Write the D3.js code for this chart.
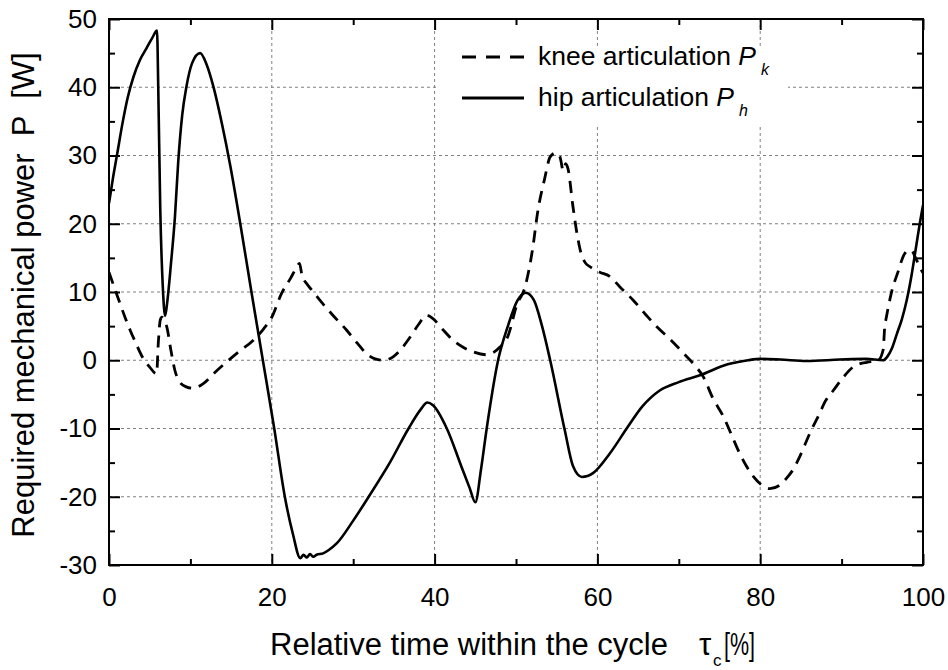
<!DOCTYPE html>
<html><head><meta charset="utf-8">
<script src="https://cdn.jsdelivr.net/npm/d3@7"></script>
<style>
html,body{margin:0;padding:0;background:#fff;}
svg{display:block;}
text{font-family:Arial,"Liberation Sans",sans-serif;fill:#000;white-space:pre;}
</style></head>
<body>
<svg id="chart" width="948" height="670"></svg>
<script>
// ---- data ----
const hipX = [0,0.5,1.0,1.7,2.3,3.0,3.8,4.6,5.3,5.9,6.05,6.3,6.6,6.9,7.2,7.6,8.1,8.5,9.0,9.5,10.2,11.2,12.0,12.8,13.9,14.9,16.2,17.5,18.9,20.3,21.6,22.6,23.5,23.9,24.3,24.7,25.1,25.5,26.3,27.0,28.0,30.0,31.9,34.5,36.8,38.3,39.1,39.8,41.5,43.3,44.3,45.0,45.7,46.4,47.8,49.0,50.2,51.2,52.2,53.2,54.2,56.0,57.0,58.1,59.5,61.5,63.6,65.5,67.7,70.0,72.6,76.0,78.5,80.0,82.5,85.7,89.8,93.0,95.1,95.6,96.2,96.8,97.4,98.0,98.6,99.2,99.6,100];
const hipP = [23,26.8,30.2,35,38.5,41.5,44,45.7,47.2,48.3,40,22,11,6.5,9,14,21,29,36,40,43.5,45,43.3,40.2,34.5,28.5,19.5,10,0,-10,-20,-25.5,-29,-28.5,-28.9,-28.4,-28.8,-28.5,-28.3,-27.8,-26.8,-23.5,-20,-15,-10,-7.2,-6.2,-6.6,-10,-15.6,-18.7,-20.8,-16,-10,0,5,8.8,9.9,8.8,5,0,-10.3,-15.5,-17.1,-16.5,-13.7,-10,-6.8,-4.4,-3.2,-2.2,-0.6,0,0.2,0.1,-0.1,0.1,0.2,0,0.5,1.8,3.9,6,8.8,12.5,17,20,22.7];

const kneeX = [0,1.0,2.0,2.6,3.3,4.0,5.0,5.85,6.05,6.3,6.5,6.8,7.1,7.6,8.1,8.7,9.5,10.3,11.5,13.0,14.4,16.0,17.7,19.0,20.0,21.2,22.3,23.0,23.4,23.7,24.3,24.9,25.9,27.5,29.2,30.5,31.6,32.7,33.7,34.9,36.0,37.0,38.0,39.0,39.8,41.0,42.3,43.5,44.8,46.4,47.3,48.0,49.0,50.1,51.1,52.0,52.7,53.5,54.2,54.9,55.4,55.8,56.1,56.4,57.0,57.5,57.9,58.5,59.1,60.3,61.5,62.8,64.4,66.0,67.3,69.0,70.6,72.0,73.0,74.2,75.5,76.5,77.5,78.3,79.2,80.2,81.2,82.4,83.3,84.1,84.9,86.1,87.3,88.0,89.0,90.2,91.4,92.3,93.1,94.5,95.1,95.3,95.5,96.1,97.0,97.6,98.2,98.6,99.0,99.8,100];
const kneeP = [12.9,9.5,6.2,4.4,2.5,0.7,-1.0,-2.0,2.4,5.9,6.3,5.8,4.9,1.5,-1.5,-3.2,-3.9,-4.1,-3.5,-1.8,-0.3,1.3,2.9,4.6,6.3,9.8,12.0,13.5,14.2,12.5,11.2,10.3,8.8,6.6,4.4,2.5,1.0,0.2,0,0.5,1.8,3.4,5.2,6.6,6.1,4.5,2.9,1.9,1.2,0.8,1.2,1.9,3.5,8.1,10.7,16,22,26.5,29.8,30.4,29.8,27.8,28.8,28,22.5,18.5,16.1,14.3,13.7,12.9,12.3,10.7,8.8,6.6,4.9,3.0,1.0,-0.8,-2.4,-5.6,-8.3,-11,-13.7,-15.5,-17.1,-18.3,-18.8,-18.3,-17.2,-15.9,-14,-10.7,-7.8,-6,-4.4,-2.5,-1.0,-0.5,-0.3,0,1.5,4.9,6.3,9.8,13.2,15.3,16.1,16.1,15.2,13.2,12.8];

const xTicks = [0,20,40,60,80,100];
const yTicks = [-30,-20,-10,0,10,20,30,40,50];
const legendLabels = ["knee articulation ", "hip articulation "];
const legendSubs = ["k", "h"];

// ---- layout ----
const L = 109, R = 923, T = 19, B = 565;
const svg = d3.select("#chart");

const x = d3.scaleLinear().domain([0,100]).range([L,R]);
const y = d3.scaleLinear().domain([-30,50]).range([B,T]);

// grid
const grid = svg.append("g").attr("stroke","#808080").attr("stroke-width",1).attr("stroke-dasharray","3,3");
xTicks.filter(d=>d>0&&d<100).forEach(d=>{
  grid.append("line").attr("x1",x(d)).attr("x2",x(d)).attr("y1",T).attr("y2",B);
});
yTicks.filter(d=>d>-30&&d<50).forEach(d=>{
  grid.append("line").attr("x1",L).attr("x2",R).attr("y1",y(d)).attr("y2",y(d));
});

// legend background (covers grid)
svg.append("rect").attr("x",436).attr("y",47).attr("width",352).attr("height",80).attr("fill","#fff");

// axes (inward ticks, on all 4 sides)
function styleAxis(g){
  g.select(".domain").remove();
  g.selectAll(".tick line").attr("stroke","#000").attr("stroke-width",2);
  g.selectAll("text").attr("font-size",26).attr("font-family",'Arial,"Liberation Sans",sans-serif').attr("fill","#000");
}
const xMinor = d3.range(0,101,10);
const yMinor = d3.range(-30,51,5);
const isMajX = d=>d%20===0, isMajY = d=>d%10===0;

const gB = svg.append("g").attr("transform",`translate(0,${B})`)
  .call(d3.axisBottom(x).tickValues(xMinor).tickSize(0).tickPadding(22).tickFormat(d=>isMajX(d)?d:""));
styleAxis(gB);
gB.selectAll(".tick line").attr("y2",d=>isMajX(d)?-11:-6);
gB.selectAll("text").attr("dy","0.71em").attr("y",23);

const gT = svg.append("g").attr("transform",`translate(0,${T})`)
  .call(d3.axisTop(x).tickValues(xMinor).tickSize(0).tickFormat(""));
styleAxis(gT);
gT.selectAll(".tick line").attr("y2",d=>isMajX(d)?11:6);

const gL = svg.append("g").attr("transform",`translate(${L},0)`)
  .call(d3.axisLeft(y).tickValues(yMinor).tickSize(0).tickPadding(12).tickFormat(d=>isMajY(d)?d:""));
styleAxis(gL);
gL.selectAll(".tick line").attr("x2",d=>isMajY(d)?11:6);

const gR = svg.append("g").attr("transform",`translate(${R},0)`)
  .call(d3.axisRight(y).tickValues(yMinor).tickSize(0).tickFormat(""));
styleAxis(gR);
gR.selectAll(".tick line").attr("x2",d=>isMajY(d)?-11:-6);

// frame
svg.append("rect").attr("x",L).attr("y",T).attr("width",R-L).attr("height",B-T)
  .attr("fill","none").attr("stroke","#000").attr("stroke-width",2);

// curves
const line = d3.line().x(d=>x(d[0])).y(d=>y(d[1])).curve(d3.curveMonotoneX);
const hip = hipX.map((v,i)=>[v,hipP[i]]);
const knee = kneeX.map((v,i)=>[v,kneeP[i]]);
svg.append("clipPath").attr("id","clip").append("rect")
  .attr("x",L).attr("y",T).attr("width",R-L).attr("height",B-T);
svg.append("path").datum(knee).attr("d",line).attr("fill","none")
  .attr("stroke","#000").attr("stroke-width",2.8).attr("stroke-dasharray","12,8")
  .attr("clip-path","url(#clip)");
svg.append("path").datum(hip).attr("d",line).attr("fill","none")
  .attr("stroke","#000").attr("stroke-width",2.6).attr("clip-path","url(#clip)");

// legend
const legY = [57, 98];
legendLabels.forEach((lab,i)=>{
  svg.append("line").attr("x1",462).attr("x2",524).attr("y1",legY[i]).attr("y2",legY[i])
    .attr("stroke","#000").attr("stroke-width",2.8)
    .attr("stroke-dasharray", i===0 ? "14,10" : null);
  const t = svg.append("text").attr("x",538).attr("y",legY[i]+8).attr("font-size",26.5);
  t.append("tspan").text(lab);
  t.append("tspan").attr("font-style","italic").text("P");
  t.append("tspan").attr("font-size",16).attr("dx",5).attr("dy",10).attr("font-style","italic").text(legendSubs[i]);
});

// axis titles
svg.append("text").attr("x",270).attr("y",655).attr("font-size",31).text("Relative time within the cycle");
svg.append("text").attr("x",699).attr("y",655).attr("font-size",31).text("τ");
svg.append("text").attr("x",713).attr("y",666).attr("font-size",17).text("c");
svg.append("text").attr("x",724).attr("y",655).attr("font-size",31)
  .attr("textLength",31).attr("lengthAdjust","spacingAndGlyphs").text("[%]");

svg.append("text").attr("transform","translate(34,295) rotate(-90)").attr("text-anchor","middle")
  .attr("font-size",31).text("Required mechanical power  P  [W]");
</script>
</body></html>
